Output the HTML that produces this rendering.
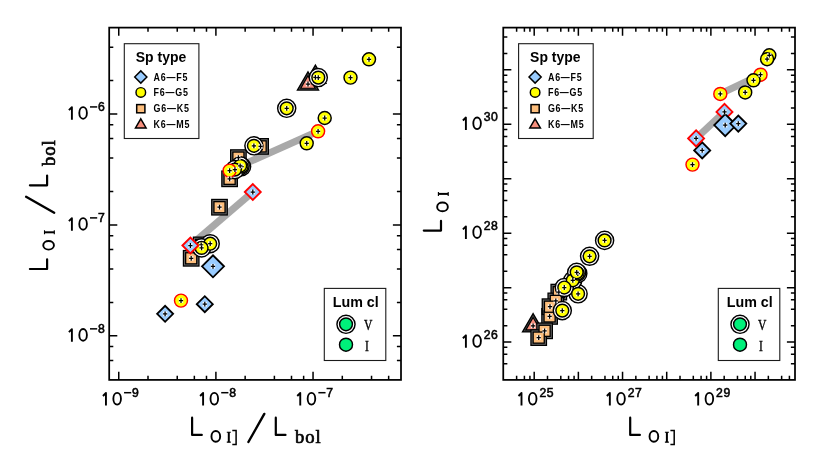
<!DOCTYPE html>
<html><head><meta charset="utf-8"><title>L[OI] vs L[OI]</title>
<style>html,body{margin:0;padding:0;background:#fff}svg{display:block}text{font-family:"Liberation Sans",sans-serif;fill:#000}.sup{stroke:#000;stroke-width:.55}.gl{fill:none;stroke:#000;stroke-width:2.2;stroke-linecap:round;stroke-linejoin:round}.lb{font-weight:bold;font-size:10.4px;letter-spacing:.9px}.lt{font-weight:bold;font-size:14px}.bol{font-family:"Liberation Serif",serif;font-size:18.6px;letter-spacing:.9px;stroke:#000;stroke-width:.7}.ser{font-family:"Liberation Serif",serif;font-size:14.2px;stroke:#000;stroke-width:.35}</style></head><body>
<svg style="will-change:transform" width="830" height="467" viewBox="0 0 830 467">
<rect width="830" height="467" fill="#fff"/>
<!-- panel 1 -->
<line x1="190.4" y1="245.5" x2="252.8" y2="192.0" stroke="#a9a9a9" stroke-width="7.1"/>
<line x1="229.6" y1="170.6" x2="318.1" y2="131.3" stroke="#a9a9a9" stroke-width="7.1"/>
<polygon points="315.4,65.1 326.0,83.4 304.8,83.4" fill="#474747" stroke="#000" stroke-width="1.3" stroke-linejoin="miter"/>
<polygon points="308.0,71.8 318.6,90.1 297.4,90.1" fill="#474747" stroke="#000" stroke-width="1.3" stroke-linejoin="miter"/>
<polygon points="315.4,69.0 322.6,81.5 308.2,81.5" fill="#f78f7d" stroke="#000" stroke-width="1.15" stroke-linejoin="miter"/>
<polygon points="308.0,75.7 315.2,88.2 300.8,88.2" fill="#f78f7d" stroke="#000" stroke-width="1.15" stroke-linejoin="miter"/>
<rect x="183.45" y="250.55" width="15.5" height="15.5" fill="#6e6e6e" stroke="#000" stroke-width="1.3"/>
<rect x="193.45" y="237.15" width="15.5" height="15.5" fill="#6e6e6e" stroke="#000" stroke-width="1.3"/>
<rect x="211.75" y="199.45" width="15.5" height="15.5" fill="#6e6e6e" stroke="#000" stroke-width="1.3"/>
<rect x="221.85" y="171.05" width="15.5" height="15.5" fill="#6e6e6e" stroke="#000" stroke-width="1.3"/>
<rect x="230.65" y="149.85" width="15.5" height="15.5" fill="#6e6e6e" stroke="#000" stroke-width="1.3"/>
<rect x="252.85" y="138.65" width="15.5" height="15.5" fill="#6e6e6e" stroke="#000" stroke-width="1.3"/>
<rect x="185.65" y="252.75" width="11.1" height="11.1" fill="#fdbe7c" stroke="#000" stroke-width="1.3"/>
<rect x="195.65" y="239.35" width="11.1" height="11.1" fill="#fdbe7c" stroke="#000" stroke-width="1.3"/>
<rect x="213.95" y="201.65" width="11.1" height="11.1" fill="#fdbe7c" stroke="#000" stroke-width="1.3"/>
<rect x="224.05" y="173.25" width="11.1" height="11.1" fill="#fdbe7c" stroke="#000" stroke-width="1.3"/>
<rect x="232.85" y="152.05" width="11.1" height="11.1" fill="#fdbe7c" stroke="#000" stroke-width="1.3"/>
<rect x="255.05" y="140.85" width="11.1" height="11.1" fill="#fdbe7c" stroke="#000" stroke-width="1.3"/>
<circle cx="210.2" cy="243.7" r="9.05" fill="#fff" stroke="#000" stroke-width="1.45"/>
<circle cx="201.6" cy="247.9" r="9.05" fill="#fff" stroke="#000" stroke-width="1.45"/>
<circle cx="241.6" cy="166.6" r="9.05" fill="#fff" stroke="#000" stroke-width="1.45"/>
<circle cx="240.2" cy="165.8" r="9.05" fill="#fff" stroke="#000" stroke-width="1.45"/>
<circle cx="234.9" cy="169.6" r="9.05" fill="#fff" stroke="#000" stroke-width="1.45"/>
<circle cx="253.9" cy="145.8" r="9.05" fill="#fff" stroke="#000" stroke-width="1.45"/>
<circle cx="286.7" cy="108.3" r="9.05" fill="#fff" stroke="#000" stroke-width="1.45"/>
<circle cx="318.3" cy="77.6" r="9.05" fill="#fff" stroke="#000" stroke-width="1.45"/>
<circle cx="210.2" cy="243.7" r="6.4" fill="#ffff00" stroke="#000" stroke-width="1.45"/>
<circle cx="201.6" cy="247.9" r="6.4" fill="#ffff00" stroke="#000" stroke-width="1.45"/>
<circle cx="241.6" cy="166.6" r="6.4" fill="#ffff00" stroke="#000" stroke-width="1.45"/>
<circle cx="240.2" cy="165.8" r="6.4" fill="#ffff00" stroke="#000" stroke-width="1.45"/>
<circle cx="234.9" cy="169.6" r="6.4" fill="#ffff00" stroke="#000" stroke-width="1.45"/>
<circle cx="229.6" cy="170.6" r="6.5" fill="#ffff00" stroke="#f00" stroke-width="1.45"/>
<circle cx="253.9" cy="145.8" r="6.4" fill="#ffff00" stroke="#000" stroke-width="1.45"/>
<circle cx="286.7" cy="108.3" r="6.4" fill="#ffff00" stroke="#000" stroke-width="1.45"/>
<circle cx="181.0" cy="300.6" r="6.5" fill="#ffff00" stroke="#f00" stroke-width="1.45"/>
<circle cx="306.7" cy="143.3" r="6.5" fill="#ffff00" stroke="#000" stroke-width="1.45"/>
<circle cx="318.1" cy="131.3" r="6.5" fill="#ffff00" stroke="#f00" stroke-width="1.45"/>
<circle cx="324.7" cy="118.0" r="6.5" fill="#ffff00" stroke="#000" stroke-width="1.45"/>
<circle cx="318.3" cy="77.6" r="6.4" fill="#ffff00" stroke="#000" stroke-width="1.45"/>
<circle cx="350.5" cy="77.6" r="6.5" fill="#ffff00" stroke="#000" stroke-width="1.45"/>
<circle cx="369.0" cy="59.3" r="6.5" fill="#ffff00" stroke="#000" stroke-width="1.45"/>
<path d="M157.1 313.8L165.1 305.8L173.1 313.8L165.1 321.8Z" fill="#99ccff" stroke="#000" stroke-width="1.85" stroke-linejoin="miter"/>
<path d="M196.8 304.2L204.8 296.2L212.8 304.2L204.8 312.2Z" fill="#99ccff" stroke="#000" stroke-width="1.85" stroke-linejoin="miter"/>
<path d="M202.0 266.3L213.0 255.3L224.0 266.3L213.0 277.3Z" fill="#99ccff" stroke="#000" stroke-width="1.85" stroke-linejoin="miter"/>
<path d="M182.4 245.5L190.4 237.5L198.4 245.5L190.4 253.5Z" fill="#99ccff" stroke="#f00" stroke-width="1.85" stroke-linejoin="miter"/>
<path d="M244.8 192.0L252.8 184.0L260.8 192.0L252.8 200.0Z" fill="#99ccff" stroke="#f00" stroke-width="1.85" stroke-linejoin="miter"/><rect x="313.2" y="74.9" width="4.4" height="4.8" fill="#fff" fill-opacity=".8"/><path d="M313.3 77.3H317.5M315.4 74.9V79.7" stroke="#000" stroke-width="1.25" fill="none"/><rect x="305.8" y="81.6" width="4.4" height="4.8" fill="#fff" fill-opacity=".8"/><path d="M305.9 84.0H310.1M308.0 81.6V86.4" stroke="#000" stroke-width="1.25" fill="none"/><rect x="189.0" y="255.9" width="4.4" height="4.8" fill="#fff" fill-opacity=".8"/><path d="M189.1 258.3H193.3M191.2 255.9V260.7" stroke="#000" stroke-width="1.25" fill="none"/><rect x="199.0" y="242.5" width="4.4" height="4.8" fill="#fff" fill-opacity=".8"/><path d="M199.1 244.9H203.3M201.2 242.5V247.3" stroke="#000" stroke-width="1.25" fill="none"/><rect x="217.3" y="204.8" width="4.4" height="4.8" fill="#fff" fill-opacity=".8"/><path d="M217.4 207.2H221.6M219.5 204.8V209.6" stroke="#000" stroke-width="1.25" fill="none"/><rect x="227.4" y="176.4" width="4.4" height="4.8" fill="#fff" fill-opacity=".8"/><path d="M227.5 178.8H231.7M229.6 176.4V181.2" stroke="#000" stroke-width="1.25" fill="none"/><rect x="236.2" y="155.2" width="4.4" height="4.8" fill="#fff" fill-opacity=".8"/><path d="M236.3 157.6H240.5M238.4 155.2V160.0" stroke="#000" stroke-width="1.25" fill="none"/><rect x="258.4" y="144.0" width="4.4" height="4.8" fill="#fff" fill-opacity=".8"/><path d="M258.5 146.4H262.7M260.6 144.0V148.8" stroke="#000" stroke-width="1.25" fill="none"/><rect x="208.0" y="241.3" width="4.4" height="4.8" fill="#fff" fill-opacity=".8"/><path d="M208.1 243.7H212.3M210.2 241.3V246.1" stroke="#000" stroke-width="1.25" fill="none"/><rect x="199.4" y="245.5" width="4.4" height="4.8" fill="#fff" fill-opacity=".8"/><path d="M199.5 247.9H203.7M201.6 245.5V250.3" stroke="#000" stroke-width="1.25" fill="none"/><rect x="239.4" y="164.2" width="4.4" height="4.8" fill="#fff" fill-opacity=".8"/><path d="M239.5 166.6H243.7M241.6 164.2V169.0" stroke="#000" stroke-width="1.25" fill="none"/><rect x="238.0" y="163.4" width="4.4" height="4.8" fill="#fff" fill-opacity=".8"/><path d="M238.1 165.8H242.3M240.2 163.4V168.2" stroke="#000" stroke-width="1.25" fill="none"/><rect x="232.7" y="167.2" width="4.4" height="4.8" fill="#fff" fill-opacity=".8"/><path d="M232.8 169.6H237.0M234.9 167.2V172.0" stroke="#000" stroke-width="1.25" fill="none"/><rect x="227.4" y="168.2" width="4.4" height="4.8" fill="#fff" fill-opacity=".8"/><path d="M227.5 170.6H231.7M229.6 168.2V173.0" stroke="#000" stroke-width="1.25" fill="none"/><rect x="251.7" y="143.4" width="4.4" height="4.8" fill="#fff" fill-opacity=".8"/><path d="M251.8 145.8H256.0M253.9 143.4V148.2" stroke="#000" stroke-width="1.25" fill="none"/><rect x="284.5" y="105.9" width="4.4" height="4.8" fill="#fff" fill-opacity=".8"/><path d="M284.6 108.3H288.8M286.7 105.9V110.7" stroke="#000" stroke-width="1.25" fill="none"/><rect x="178.8" y="298.2" width="4.4" height="4.8" fill="#fff" fill-opacity=".8"/><path d="M178.9 300.6H183.1M181.0 298.2V303.0" stroke="#000" stroke-width="1.25" fill="none"/><rect x="304.5" y="140.9" width="4.4" height="4.8" fill="#fff" fill-opacity=".8"/><path d="M304.6 143.3H308.8M306.7 140.9V145.7" stroke="#000" stroke-width="1.25" fill="none"/><rect x="315.9" y="128.9" width="4.4" height="4.8" fill="#fff" fill-opacity=".8"/><path d="M316.0 131.3H320.2M318.1 128.9V133.7" stroke="#000" stroke-width="1.25" fill="none"/><rect x="322.5" y="115.6" width="4.4" height="4.8" fill="#fff" fill-opacity=".8"/><path d="M322.6 118.0H326.8M324.7 115.6V120.4" stroke="#000" stroke-width="1.25" fill="none"/><rect x="316.1" y="75.2" width="4.4" height="4.8" fill="#fff" fill-opacity=".8"/><path d="M316.2 77.6H320.4M318.3 75.2V80.0" stroke="#000" stroke-width="1.25" fill="none"/><rect x="348.3" y="75.2" width="4.4" height="4.8" fill="#fff" fill-opacity=".8"/><path d="M348.4 77.6H352.6M350.5 75.2V80.0" stroke="#000" stroke-width="1.25" fill="none"/><rect x="366.8" y="56.9" width="4.4" height="4.8" fill="#fff" fill-opacity=".8"/><path d="M366.9 59.3H371.1M369.0 56.9V61.7" stroke="#000" stroke-width="1.25" fill="none"/><rect x="162.9" y="311.4" width="4.4" height="4.8" fill="#fff" fill-opacity=".8"/><path d="M163.0 313.8H167.2M165.1 311.4V316.2" stroke="#000" stroke-width="1.25" fill="none"/><rect x="202.6" y="301.8" width="4.4" height="4.8" fill="#fff" fill-opacity=".8"/><path d="M202.7 304.2H206.9M204.8 301.8V306.6" stroke="#000" stroke-width="1.25" fill="none"/><rect x="210.8" y="263.9" width="4.4" height="4.8" fill="#fff" fill-opacity=".8"/><path d="M210.9 266.3H215.1M213.0 263.9V268.7" stroke="#000" stroke-width="1.25" fill="none"/><rect x="188.2" y="243.1" width="4.4" height="4.8" fill="#fff" fill-opacity=".8"/><path d="M188.3 245.5H192.5M190.4 243.1V247.9" stroke="#000" stroke-width="1.25" fill="none"/><rect x="250.6" y="189.6" width="4.4" height="4.8" fill="#fff" fill-opacity=".8"/><path d="M250.7 192.0H254.9M252.8 189.6V194.4" stroke="#000" stroke-width="1.25" fill="none"/>
<path d="M118.75 379.9v-8.1M118.75 27.62v8.1M148.00 379.9v-4.1M148.00 27.62v4.1M177.24 379.9v-4.1M177.24 27.62v4.1M194.35 379.9v-4.1M194.35 27.62v4.1M206.49 379.9v-4.1M206.49 27.62v4.1M215.90 379.9v-8.1M215.90 27.62v8.1M245.15 379.9v-4.1M245.15 27.62v4.1M274.39 379.9v-4.1M274.39 27.62v4.1M291.50 379.9v-4.1M291.50 27.62v4.1M303.64 379.9v-4.1M303.64 27.62v4.1M313.05 379.9v-8.1M313.05 27.62v8.1M342.30 379.9v-4.1M342.30 27.62v4.1M371.54 379.9v-4.1M371.54 27.62v4.1M388.65 379.9v-4.1M388.65 27.62v4.1" stroke="#000" stroke-width="1.5" fill="none"/>
<path d="M109.2 360.47h4.1M401.0 360.47h-4.1M109.2 346.60h4.1M401.0 346.60h-4.1M109.2 335.85h8.1M401.0 335.85h-8.1M109.2 302.45h4.1M401.0 302.45h-4.1M109.2 269.05h4.1M401.0 269.05h-4.1M109.2 249.51h4.1M401.0 249.51h-4.1M109.2 235.64h4.1M401.0 235.64h-4.1M109.2 224.89h8.1M401.0 224.89h-8.1M109.2 191.49h4.1M401.0 191.49h-4.1M109.2 158.09h4.1M401.0 158.09h-4.1M109.2 138.55h4.1M401.0 138.55h-4.1M109.2 124.68h4.1M401.0 124.68h-4.1M109.2 113.93h8.1M401.0 113.93h-8.1M109.2 80.53h4.1M401.0 80.53h-4.1M109.2 47.13h4.1M401.0 47.13h-4.1" stroke="#000" stroke-width="1.5" fill="none"/>
<rect x="109.2" y="27.62" width="291.80" height="352.28" fill="none" stroke="#000" stroke-width="1.75"/>
<g transform="translate(117.15 398.75)"><path d="M-14.2 -2.8L-11.2 -5.75V6.75" fill="none" stroke="#000" stroke-width="1.9" stroke-linejoin="round"/><ellipse cx="0" cy="0" rx="3.8" ry="5.85" fill="none" stroke="#000" stroke-width="1.85"/><path d="M6.9 -6.05H14.1" stroke="#000" stroke-width="1.5" fill="none"/><text x="14.9" y="-2.0" font-size="12.2" class="sup">9</text></g>
<g transform="translate(214.30 398.75)"><path d="M-14.2 -2.8L-11.2 -5.75V6.75" fill="none" stroke="#000" stroke-width="1.9" stroke-linejoin="round"/><ellipse cx="0" cy="0" rx="3.8" ry="5.85" fill="none" stroke="#000" stroke-width="1.85"/><path d="M6.9 -6.05H14.1" stroke="#000" stroke-width="1.5" fill="none"/><text x="14.9" y="-2.0" font-size="12.2" class="sup">8</text></g>
<g transform="translate(311.45 398.75)"><path d="M-14.2 -2.8L-11.2 -5.75V6.75" fill="none" stroke="#000" stroke-width="1.9" stroke-linejoin="round"/><ellipse cx="0" cy="0" rx="3.8" ry="5.85" fill="none" stroke="#000" stroke-width="1.85"/><path d="M6.9 -6.05H14.1" stroke="#000" stroke-width="1.5" fill="none"/><text x="14.9" y="-2.0" font-size="12.2" class="sup">7</text></g>
<g transform="translate(83.10 112.98)"><path d="M-14.2 -2.8L-11.2 -5.75V6.75" fill="none" stroke="#000" stroke-width="1.9" stroke-linejoin="round"/><ellipse cx="0" cy="0" rx="3.8" ry="5.85" fill="none" stroke="#000" stroke-width="1.85"/><path d="M6.9 -6.05H14.1" stroke="#000" stroke-width="1.5" fill="none"/><text x="14.9" y="-2.0" font-size="12.2" class="sup">6</text></g>
<g transform="translate(83.10 223.94)"><path d="M-14.2 -2.8L-11.2 -5.75V6.75" fill="none" stroke="#000" stroke-width="1.9" stroke-linejoin="round"/><ellipse cx="0" cy="0" rx="3.8" ry="5.85" fill="none" stroke="#000" stroke-width="1.85"/><path d="M6.9 -6.05H14.1" stroke="#000" stroke-width="1.5" fill="none"/><text x="14.9" y="-2.0" font-size="12.2" class="sup">7</text></g>
<g transform="translate(83.10 334.90)"><path d="M-14.2 -2.8L-11.2 -5.75V6.75" fill="none" stroke="#000" stroke-width="1.9" stroke-linejoin="round"/><ellipse cx="0" cy="0" rx="3.8" ry="5.85" fill="none" stroke="#000" stroke-width="1.85"/><path d="M6.9 -6.05H14.1" stroke="#000" stroke-width="1.5" fill="none"/><text x="14.9" y="-2.0" font-size="12.2" class="sup">8</text></g>
<rect x="124.3" y="43.7" width="74.6" height="94.8" fill="#fff" stroke="#1a1a1a" stroke-width="1.1"/><text transform="translate(135.8 61.7) scale(.958 1)" class="lt" style="font-size:14.6px">Sp type</text><path d="M134.7 77L140.8 70.9L146.9 77L140.8 83.1Z" fill="#99ccff" stroke="#000" stroke-width="1.45"/><circle cx="140.8" cy="92.4" r="4.8" fill="#ffff00" stroke="#000" stroke-width="1.45"/><rect x="136.7" y="104.6" width="8.2" height="8.2" fill="#fdbe7c" stroke="#000" stroke-width="1.5"/><path d="M140.8 118.8L146.1 127.95H135.5Z" fill="#f78f7d" stroke="#000" stroke-width="1.5"/><text transform="translate(153.6 80.5) scale(.86 1)" class="lb">A6—F5</text><text transform="translate(153.6 96.2) scale(.86 1)" class="lb">F6—G5</text><text transform="translate(153.6 112.3) scale(.86 1)" class="lb">G6—K5</text><text transform="translate(153.6 128.0) scale(.86 1)" class="lb">K6—M5</text>
<rect x="324.3" y="288.4" width="61.5" height="72.1" fill="#fff" stroke="#1a1a1a" stroke-width="1.1"/><text transform="translate(332.8 306.6) scale(.977 1)" class="lt" style="font-size:14.6px">Lum cl</text><circle cx="346.0" cy="324.3" r="9.05" fill="#fff" stroke="#000" stroke-width="1.45"/><circle cx="346.0" cy="324.3" r="6.4" fill="#00f07a" stroke="#000" stroke-width="1.45"/><circle cx="346.0" cy="344.7" r="6.5" fill="#00f07a" stroke="#000" stroke-width="1.45"/><text transform="translate(363.9 329.9) scale(.82 1)" class="ser">V</text><text transform="translate(365.1 350.8) scale(.82 1)" class="ser">I</text>
<g transform="translate(191 436)"><path d="M1.1 -18.3V-1.1H10.8" class="gl"/><ellipse cx="24.8" cy="0.4" rx="4.35" ry="5.35" fill="none" stroke="#000" stroke-width="1.9"/><path d="M37.8 -3.9V6.2" stroke="#000" stroke-width="2" fill="none"/><path d="M35.8 -3.7H39.8M35.8 6.1H39.8" stroke="#000" stroke-width="1.1" fill="none"/><path d="M41.3 -5.4H45.1V8.6H41.3" stroke="#000" stroke-width="1.5" fill="none"/><path d="M57.4 6L73.3 -22.1" class="gl" style="stroke-width:2.4"/><path d="M1.1 -18.3V-1.1H10.8" class="gl" transform="translate(83.7 0)"/><text x="104.1" y="6.6" class="bol">bol</text></g>
<g transform="translate(48.2 270.1) rotate(-90)"><path d="M1.1 -18.3V-1.1H10.8" class="gl"/><ellipse cx="24.8" cy="0.4" rx="4.35" ry="5.35" fill="none" stroke="#000" stroke-width="1.9"/><path d="M37.8 -3.9V6.2" stroke="#000" stroke-width="2" fill="none"/><path d="M35.8 -3.7H39.8M35.8 6.1H39.8" stroke="#000" stroke-width="1.1" fill="none"/><path d="M57.4 6L73.3 -22.1" class="gl" style="stroke-width:2.4"/><path d="M1.1 -18.3V-1.1H10.8" class="gl" transform="translate(83.7 0)"/><text x="104.1" y="6.6" class="bol">bol</text></g>
<!-- panel 2 -->
<line x1="696.1" y1="138.4" x2="724.5" y2="111.9" stroke="#a9a9a9" stroke-width="7.1"/>
<line x1="720.3" y1="93.9" x2="760.5" y2="74.7" stroke="#a9a9a9" stroke-width="7.1"/>
<polygon points="533.1,313.6 543.7,331.9 522.5,331.9" fill="#474747" stroke="#000" stroke-width="1.3" stroke-linejoin="miter"/>
<polygon points="533.1,317.5 540.3,329.9 525.9,329.9" fill="#f78f7d" stroke="#000" stroke-width="1.15" stroke-linejoin="miter"/>
<rect x="551.05" y="284.35" width="15.5" height="15.5" fill="#6e6e6e" stroke="#000" stroke-width="1.3"/>
<rect x="548.05" y="293.15" width="15.5" height="15.5" fill="#6e6e6e" stroke="#000" stroke-width="1.3"/>
<rect x="541.85" y="308.65" width="15.5" height="15.5" fill="#6e6e6e" stroke="#000" stroke-width="1.3"/>
<rect x="542.25" y="298.95" width="15.5" height="15.5" fill="#6e6e6e" stroke="#000" stroke-width="1.3"/>
<rect x="536.85" y="323.05" width="15.5" height="15.5" fill="#6e6e6e" stroke="#000" stroke-width="1.3"/>
<rect x="530.95" y="329.85" width="15.5" height="15.5" fill="#6e6e6e" stroke="#000" stroke-width="1.3"/>
<rect x="553.25" y="286.55" width="11.1" height="11.1" fill="#fdbe7c" stroke="#000" stroke-width="1.3"/>
<rect x="550.25" y="295.35" width="11.1" height="11.1" fill="#fdbe7c" stroke="#000" stroke-width="1.3"/>
<rect x="544.05" y="310.85" width="11.1" height="11.1" fill="#fdbe7c" stroke="#000" stroke-width="1.3"/>
<rect x="544.45" y="301.15" width="11.1" height="11.1" fill="#fdbe7c" stroke="#000" stroke-width="1.3"/>
<rect x="539.05" y="325.25" width="11.1" height="11.1" fill="#fdbe7c" stroke="#000" stroke-width="1.3"/>
<rect x="533.15" y="332.05" width="11.1" height="11.1" fill="#fdbe7c" stroke="#000" stroke-width="1.3"/>
<circle cx="562.3" cy="310.6" r="9.05" fill="#fff" stroke="#000" stroke-width="1.45"/>
<circle cx="578.1" cy="293.8" r="9.05" fill="#fff" stroke="#000" stroke-width="1.45"/>
<circle cx="572.8" cy="280.3" r="9.05" fill="#fff" stroke="#000" stroke-width="1.45"/>
<circle cx="564.3" cy="287.5" r="9.05" fill="#fff" stroke="#000" stroke-width="1.45"/>
<circle cx="577.8" cy="273.5" r="9.05" fill="#fff" stroke="#000" stroke-width="1.45"/>
<circle cx="576.7" cy="272.3" r="9.05" fill="#fff" stroke="#000" stroke-width="1.45"/>
<circle cx="589.6" cy="256.3" r="9.05" fill="#fff" stroke="#000" stroke-width="1.45"/>
<circle cx="604.6" cy="240.4" r="9.05" fill="#fff" stroke="#000" stroke-width="1.45"/>
<circle cx="562.3" cy="310.6" r="6.4" fill="#ffff00" stroke="#000" stroke-width="1.45"/>
<circle cx="578.1" cy="293.8" r="6.4" fill="#ffff00" stroke="#000" stroke-width="1.45"/>
<circle cx="572.8" cy="280.3" r="6.4" fill="#ffff00" stroke="#000" stroke-width="1.45"/>
<circle cx="564.3" cy="287.5" r="6.4" fill="#ffff00" stroke="#000" stroke-width="1.45"/>
<circle cx="577.8" cy="273.5" r="6.4" fill="#ffff00" stroke="#000" stroke-width="1.45"/>
<circle cx="576.7" cy="272.3" r="6.4" fill="#ffff00" stroke="#000" stroke-width="1.45"/>
<circle cx="589.6" cy="256.3" r="6.4" fill="#ffff00" stroke="#000" stroke-width="1.45"/>
<circle cx="604.6" cy="240.4" r="6.4" fill="#ffff00" stroke="#000" stroke-width="1.45"/>
<circle cx="692.5" cy="164.6" r="6.5" fill="#ffff00" stroke="#f00" stroke-width="1.45"/>
<circle cx="720.3" cy="93.9" r="6.5" fill="#ffff00" stroke="#f00" stroke-width="1.45"/>
<circle cx="745.2" cy="92.4" r="6.5" fill="#ffff00" stroke="#000" stroke-width="1.45"/>
<circle cx="760.5" cy="74.7" r="6.5" fill="#ffff00" stroke="#f00" stroke-width="1.45"/>
<circle cx="753.5" cy="80.3" r="6.5" fill="#ffff00" stroke="#000" stroke-width="1.45"/>
<circle cx="769.3" cy="55.3" r="6.5" fill="#ffff00" stroke="#000" stroke-width="1.45"/>
<circle cx="767.1" cy="59.2" r="6.5" fill="#ffff00" stroke="#000" stroke-width="1.45"/>
<path d="M694.2 150.4L702.2 142.4L710.2 150.4L702.2 158.4Z" fill="#99ccff" stroke="#000" stroke-width="1.85" stroke-linejoin="miter"/>
<path d="M688.1 138.4L696.1 130.4L704.1 138.4L696.1 146.4Z" fill="#99ccff" stroke="#f00" stroke-width="1.85" stroke-linejoin="miter"/>
<path d="M716.5 111.9L724.5 103.9L732.5 111.9L724.5 119.9Z" fill="#99ccff" stroke="#f00" stroke-width="1.85" stroke-linejoin="miter"/>
<path d="M714.2 125.1L725.2 114.1L736.2 125.1L725.2 136.1Z" fill="#99ccff" stroke="#000" stroke-width="1.85" stroke-linejoin="miter"/>
<path d="M730.3 123.6L738.3 115.6L746.3 123.6L738.3 131.6Z" fill="#99ccff" stroke="#000" stroke-width="1.85" stroke-linejoin="miter"/><rect x="530.9" y="323.4" width="4.4" height="4.8" fill="#fff" fill-opacity=".8"/><path d="M531.0 325.8H535.2M533.1 323.4V328.2" stroke="#000" stroke-width="1.25" fill="none"/><rect x="556.6" y="289.7" width="4.4" height="4.8" fill="#fff" fill-opacity=".8"/><path d="M556.7 292.1H560.9M558.8 289.7V294.5" stroke="#000" stroke-width="1.25" fill="none"/><rect x="553.6" y="298.5" width="4.4" height="4.8" fill="#fff" fill-opacity=".8"/><path d="M553.7 300.9H557.9M555.8 298.5V303.3" stroke="#000" stroke-width="1.25" fill="none"/><rect x="547.4" y="314.0" width="4.4" height="4.8" fill="#fff" fill-opacity=".8"/><path d="M547.5 316.4H551.7M549.6 314.0V318.8" stroke="#000" stroke-width="1.25" fill="none"/><rect x="547.8" y="304.3" width="4.4" height="4.8" fill="#fff" fill-opacity=".8"/><path d="M547.9 306.7H552.1M550.0 304.3V309.1" stroke="#000" stroke-width="1.25" fill="none"/><rect x="542.4" y="328.4" width="4.4" height="4.8" fill="#fff" fill-opacity=".8"/><path d="M542.5 330.8H546.7M544.6 328.4V333.2" stroke="#000" stroke-width="1.25" fill="none"/><rect x="536.5" y="335.2" width="4.4" height="4.8" fill="#fff" fill-opacity=".8"/><path d="M536.6 337.6H540.8M538.7 335.2V340.0" stroke="#000" stroke-width="1.25" fill="none"/><rect x="560.1" y="308.2" width="4.4" height="4.8" fill="#fff" fill-opacity=".8"/><path d="M560.2 310.6H564.4M562.3 308.2V313.0" stroke="#000" stroke-width="1.25" fill="none"/><rect x="575.9" y="291.4" width="4.4" height="4.8" fill="#fff" fill-opacity=".8"/><path d="M576.0 293.8H580.2M578.1 291.4V296.2" stroke="#000" stroke-width="1.25" fill="none"/><rect x="570.6" y="277.9" width="4.4" height="4.8" fill="#fff" fill-opacity=".8"/><path d="M570.7 280.3H574.9M572.8 277.9V282.7" stroke="#000" stroke-width="1.25" fill="none"/><rect x="562.1" y="285.1" width="4.4" height="4.8" fill="#fff" fill-opacity=".8"/><path d="M562.2 287.5H566.4M564.3 285.1V289.9" stroke="#000" stroke-width="1.25" fill="none"/><rect x="575.6" y="271.1" width="4.4" height="4.8" fill="#fff" fill-opacity=".8"/><path d="M575.7 273.5H579.9M577.8 271.1V275.9" stroke="#000" stroke-width="1.25" fill="none"/><rect x="574.5" y="269.9" width="4.4" height="4.8" fill="#fff" fill-opacity=".8"/><path d="M574.6 272.3H578.8M576.7 269.9V274.7" stroke="#000" stroke-width="1.25" fill="none"/><rect x="587.4" y="253.9" width="4.4" height="4.8" fill="#fff" fill-opacity=".8"/><path d="M587.5 256.3H591.7M589.6 253.9V258.7" stroke="#000" stroke-width="1.25" fill="none"/><rect x="602.4" y="238.0" width="4.4" height="4.8" fill="#fff" fill-opacity=".8"/><path d="M602.5 240.4H606.7M604.6 238.0V242.8" stroke="#000" stroke-width="1.25" fill="none"/><rect x="690.3" y="162.2" width="4.4" height="4.8" fill="#fff" fill-opacity=".8"/><path d="M690.4 164.6H694.6M692.5 162.2V167.0" stroke="#000" stroke-width="1.25" fill="none"/><rect x="718.1" y="91.5" width="4.4" height="4.8" fill="#fff" fill-opacity=".8"/><path d="M718.2 93.9H722.4M720.3 91.5V96.3" stroke="#000" stroke-width="1.25" fill="none"/><rect x="743.0" y="90.0" width="4.4" height="4.8" fill="#fff" fill-opacity=".8"/><path d="M743.1 92.4H747.3M745.2 90.0V94.8" stroke="#000" stroke-width="1.25" fill="none"/><rect x="758.3" y="72.3" width="4.4" height="4.8" fill="#fff" fill-opacity=".8"/><path d="M758.4 74.7H762.6M760.5 72.3V77.1" stroke="#000" stroke-width="1.25" fill="none"/><rect x="751.3" y="77.9" width="4.4" height="4.8" fill="#fff" fill-opacity=".8"/><path d="M751.4 80.3H755.6M753.5 77.9V82.7" stroke="#000" stroke-width="1.25" fill="none"/><rect x="767.1" y="52.9" width="4.4" height="4.8" fill="#fff" fill-opacity=".8"/><path d="M767.2 55.3H771.4M769.3 52.9V57.7" stroke="#000" stroke-width="1.25" fill="none"/><rect x="764.9" y="56.8" width="4.4" height="4.8" fill="#fff" fill-opacity=".8"/><path d="M765.0 59.2H769.2M767.1 56.8V61.6" stroke="#000" stroke-width="1.25" fill="none"/><rect x="700.0" y="148.0" width="4.4" height="4.8" fill="#fff" fill-opacity=".8"/><path d="M700.1 150.4H704.3M702.2 148.0V152.8" stroke="#000" stroke-width="1.25" fill="none"/><rect x="693.9" y="136.0" width="4.4" height="4.8" fill="#fff" fill-opacity=".8"/><path d="M694.0 138.4H698.2M696.1 136.0V140.8" stroke="#000" stroke-width="1.25" fill="none"/><rect x="722.3" y="109.5" width="4.4" height="4.8" fill="#fff" fill-opacity=".8"/><path d="M722.4 111.9H726.6M724.5 109.5V114.3" stroke="#000" stroke-width="1.25" fill="none"/><rect x="723.0" y="122.7" width="4.4" height="4.8" fill="#fff" fill-opacity=".8"/><path d="M723.1 125.1H727.3M725.2 122.7V127.5" stroke="#000" stroke-width="1.25" fill="none"/><rect x="736.1" y="121.2" width="4.4" height="4.8" fill="#fff" fill-opacity=".8"/><path d="M736.2 123.6H740.4M738.3 121.2V126.0" stroke="#000" stroke-width="1.25" fill="none"/>
<path d="M516.62 379.9v-4.1M516.62 27.62v4.1M524.40 379.9v-4.1M524.40 27.62v4.1M529.92 379.9v-4.1M529.92 27.62v4.1M534.20 379.9v-8.1M534.20 27.62v8.1M547.50 379.9v-4.1M547.50 27.62v4.1M560.79 379.9v-4.1M560.79 27.62v4.1M568.57 379.9v-4.1M568.57 27.62v4.1M574.09 379.9v-4.1M574.09 27.62v4.1M578.37 379.9v-8.1M578.37 27.62v8.1M591.67 379.9v-4.1M591.67 27.62v4.1M604.96 379.9v-4.1M604.96 27.62v4.1M612.74 379.9v-4.1M612.74 27.62v4.1M618.26 379.9v-4.1M618.26 27.62v4.1M622.54 379.9v-8.1M622.54 27.62v8.1M635.84 379.9v-4.1M635.84 27.62v4.1M649.13 379.9v-4.1M649.13 27.62v4.1M656.91 379.9v-4.1M656.91 27.62v4.1M662.43 379.9v-4.1M662.43 27.62v4.1M666.71 379.9v-8.1M666.71 27.62v8.1M680.01 379.9v-4.1M680.01 27.62v4.1M693.30 379.9v-4.1M693.30 27.62v4.1M701.08 379.9v-4.1M701.08 27.62v4.1M706.60 379.9v-4.1M706.60 27.62v4.1M710.88 379.9v-8.1M710.88 27.62v8.1M724.18 379.9v-4.1M724.18 27.62v4.1M737.47 379.9v-4.1M737.47 27.62v4.1M745.25 379.9v-4.1M745.25 27.62v4.1M750.77 379.9v-4.1M750.77 27.62v4.1M755.05 379.9v-8.1M755.05 27.62v8.1M768.35 379.9v-4.1M768.35 27.62v4.1M781.64 379.9v-4.1M781.64 27.62v4.1M789.42 379.9v-4.1M789.42 27.62v4.1" stroke="#000" stroke-width="1.5" fill="none"/>
<path d="M503.25 363.75h4.1M795.0 363.75h-4.1M503.25 354.16h4.1M795.0 354.16h-4.1M503.25 347.36h4.1M795.0 347.36h-4.1M503.25 342.08h8.1M795.0 342.08h-8.1M503.25 325.69h4.1M795.0 325.69h-4.1M503.25 309.30h4.1M795.0 309.30h-4.1M503.25 299.71h4.1M795.0 299.71h-4.1M503.25 292.91h4.1M795.0 292.91h-4.1M503.25 287.63h8.1M795.0 287.63h-8.1M503.25 271.25h4.1M795.0 271.25h-4.1M503.25 254.86h4.1M795.0 254.86h-4.1M503.25 245.27h4.1M795.0 245.27h-4.1M503.25 238.47h4.1M795.0 238.47h-4.1M503.25 233.19h8.1M795.0 233.19h-8.1M503.25 216.80h4.1M795.0 216.80h-4.1M503.25 200.41h4.1M795.0 200.41h-4.1M503.25 190.82h4.1M795.0 190.82h-4.1M503.25 184.02h4.1M795.0 184.02h-4.1M503.25 178.74h8.1M795.0 178.74h-8.1M503.25 162.36h4.1M795.0 162.36h-4.1M503.25 145.97h4.1M795.0 145.97h-4.1M503.25 136.38h4.1M795.0 136.38h-4.1M503.25 129.58h4.1M795.0 129.58h-4.1M503.25 124.30h8.1M795.0 124.30h-8.1M503.25 107.91h4.1M795.0 107.91h-4.1M503.25 91.52h4.1M795.0 91.52h-4.1M503.25 81.93h4.1M795.0 81.93h-4.1M503.25 75.13h4.1M795.0 75.13h-4.1M503.25 69.85h8.1M795.0 69.85h-8.1M503.25 53.47h4.1M795.0 53.47h-4.1M503.25 37.08h4.1M795.0 37.08h-4.1" stroke="#000" stroke-width="1.5" fill="none"/>
<rect x="503.25" y="27.62" width="291.75" height="352.28" fill="none" stroke="#000" stroke-width="1.75"/>
<g transform="translate(532.70 398.75)"><path d="M-14.2 -2.8L-11.2 -5.75V6.75" fill="none" stroke="#000" stroke-width="1.9" stroke-linejoin="round"/><ellipse cx="0" cy="0" rx="3.8" ry="5.85" fill="none" stroke="#000" stroke-width="1.85"/><text x="6.7" y="-2.0" font-size="12.2" class="sup" letter-spacing=".55">25</text></g>
<g transform="translate(621.04 398.75)"><path d="M-14.2 -2.8L-11.2 -5.75V6.75" fill="none" stroke="#000" stroke-width="1.9" stroke-linejoin="round"/><ellipse cx="0" cy="0" rx="3.8" ry="5.85" fill="none" stroke="#000" stroke-width="1.85"/><text x="6.7" y="-2.0" font-size="12.2" class="sup" letter-spacing=".55">27</text></g>
<g transform="translate(709.38 398.75)"><path d="M-14.2 -2.8L-11.2 -5.75V6.75" fill="none" stroke="#000" stroke-width="1.9" stroke-linejoin="round"/><ellipse cx="0" cy="0" rx="3.8" ry="5.85" fill="none" stroke="#000" stroke-width="1.85"/><text x="6.7" y="-2.0" font-size="12.2" class="sup" letter-spacing=".55">29</text></g>
<g transform="translate(477.10 123.30)"><path d="M-14.2 -2.8L-11.2 -5.75V6.75" fill="none" stroke="#000" stroke-width="1.9" stroke-linejoin="round"/><ellipse cx="0" cy="0" rx="3.8" ry="5.85" fill="none" stroke="#000" stroke-width="1.85"/><text x="6.7" y="-2.0" font-size="12.2" class="sup" letter-spacing=".55">30</text></g>
<g transform="translate(477.10 232.19)"><path d="M-14.2 -2.8L-11.2 -5.75V6.75" fill="none" stroke="#000" stroke-width="1.9" stroke-linejoin="round"/><ellipse cx="0" cy="0" rx="3.8" ry="5.85" fill="none" stroke="#000" stroke-width="1.85"/><text x="6.7" y="-2.0" font-size="12.2" class="sup" letter-spacing=".55">28</text></g>
<g transform="translate(477.10 341.08)"><path d="M-14.2 -2.8L-11.2 -5.75V6.75" fill="none" stroke="#000" stroke-width="1.9" stroke-linejoin="round"/><ellipse cx="0" cy="0" rx="3.8" ry="5.85" fill="none" stroke="#000" stroke-width="1.85"/><text x="6.7" y="-2.0" font-size="12.2" class="sup" letter-spacing=".55">26</text></g>
<rect x="518.6" y="43.7" width="74.6" height="94.8" fill="#fff" stroke="#1a1a1a" stroke-width="1.1"/><text transform="translate(530.1 61.7) scale(.958 1)" class="lt" style="font-size:14.6px">Sp type</text><path d="M529.0 77L535.1 70.9L541.2 77L535.1 83.1Z" fill="#99ccff" stroke="#000" stroke-width="1.45"/><circle cx="535.1" cy="92.4" r="4.8" fill="#ffff00" stroke="#000" stroke-width="1.45"/><rect x="531.0" y="104.6" width="8.2" height="8.2" fill="#fdbe7c" stroke="#000" stroke-width="1.5"/><path d="M535.1 118.8L540.4 127.95H529.8Z" fill="#f78f7d" stroke="#000" stroke-width="1.5"/><text transform="translate(547.9 80.5) scale(.86 1)" class="lb">A6—F5</text><text transform="translate(547.9 96.2) scale(.86 1)" class="lb">F6—G5</text><text transform="translate(547.9 112.3) scale(.86 1)" class="lb">G6—K5</text><text transform="translate(547.9 128.0) scale(.86 1)" class="lb">K6—M5</text>
<rect x="718.3" y="288.4" width="61.5" height="72.1" fill="#fff" stroke="#1a1a1a" stroke-width="1.1"/><text transform="translate(726.8 306.6) scale(.977 1)" class="lt" style="font-size:14.6px">Lum cl</text><circle cx="740.0" cy="324.3" r="9.05" fill="#fff" stroke="#000" stroke-width="1.45"/><circle cx="740.0" cy="324.3" r="6.4" fill="#00f07a" stroke="#000" stroke-width="1.45"/><circle cx="740.0" cy="344.7" r="6.5" fill="#00f07a" stroke="#000" stroke-width="1.45"/><text transform="translate(757.9 329.9) scale(.82 1)" class="ser">V</text><text transform="translate(759.1 350.8) scale(.82 1)" class="ser">I</text>
<g transform="translate(629.1 436)"><path d="M1.1 -18.3V-1.1H10.8" class="gl"/><ellipse cx="24.8" cy="0.4" rx="4.35" ry="5.35" fill="none" stroke="#000" stroke-width="1.9"/><path d="M37.8 -3.9V6.2" stroke="#000" stroke-width="2" fill="none"/><path d="M35.8 -3.7H39.8M35.8 6.1H39.8" stroke="#000" stroke-width="1.1" fill="none"/><path d="M41.3 -5.4H45.1V8.6H41.3" stroke="#000" stroke-width="1.5" fill="none"/></g>
<g transform="translate(442.1 231.7) rotate(-90)"><path d="M1.1 -18.3V-1.1H10.8" class="gl"/><ellipse cx="24.8" cy="0.4" rx="4.35" ry="5.35" fill="none" stroke="#000" stroke-width="1.9"/><path d="M37.8 -3.9V6.2" stroke="#000" stroke-width="2" fill="none"/><path d="M35.8 -3.7H39.8M35.8 6.1H39.8" stroke="#000" stroke-width="1.1" fill="none"/></g>
</svg></body></html>
